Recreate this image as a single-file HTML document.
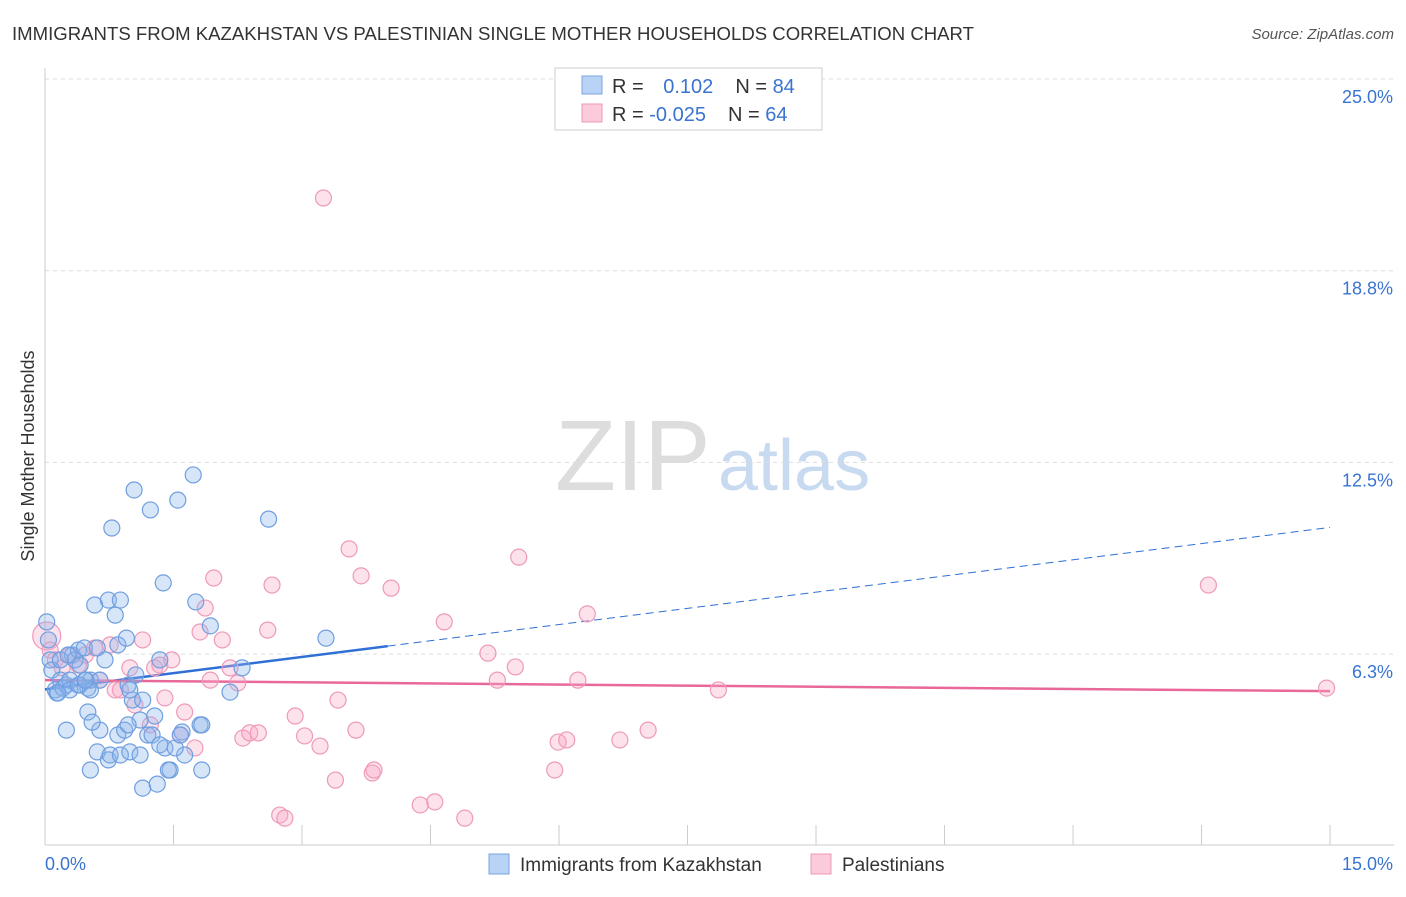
<!DOCTYPE html>
<html><head><meta charset="utf-8"><style>
body{margin:0;background:#fff;font-family:"Liberation Sans",sans-serif;}
svg text{font-family:"Liberation Sans",sans-serif;}
</style></head><body>
<svg id="chart" width="1406" height="892" xmlns="http://www.w3.org/2000/svg">
<text x="12" y="40" font-size="18.5" fill="#333" textLength="962" lengthAdjust="spacingAndGlyphs">IMMIGRANTS FROM KAZAKHSTAN VS PALESTINIAN SINGLE MOTHER HOUSEHOLDS CORRELATION CHART</text>
<text x="1394" y="39" font-size="15" fill="#555" text-anchor="end" font-style="italic">Source: ZipAtlas.com</text>
<text x="555" y="490" font-size="100" fill="#ddd" font-family="Liberation Serif">ZIP</text>
<text x="718" y="490" font-size="72" fill="#c8daf0">atlas</text>
<text transform="translate(34,456) rotate(-90)" font-size="18" fill="#333" text-anchor="middle">Single Mother Households</text>
<g id="grid"></g><g id="ticks"></g><g id="trend"></g><g id="pts"></g>
<g>
<rect x="555" y="68" width="267" height="62" fill="#fff" stroke="#ccc"/>
<rect x="582" y="76" width="20" height="18" fill="#b8d3f5" stroke="#7aa6e0"/>
<rect x="582" y="104" width="20" height="18" fill="#fbcadb" stroke="#ee9ab8"/>
<text x="612" y="93" font-size="20" fill="#333">R = <tspan fill="#3a74d0" dx="14">0.102</tspan><tspan dx="22" fill="#333">N = </tspan><tspan fill="#3a74d0">84</tspan></text>
<text x="612" y="121" font-size="20" fill="#333">R = <tspan fill="#3a74d0">-0.025</tspan><tspan dx="22" fill="#333">N = </tspan><tspan fill="#3a74d0">64</tspan></text>
</g>
<g>
<rect x="489" y="854" width="20" height="20" fill="#b8d3f5" stroke="#7aa6e0"/>
<text x="520" y="871" font-size="19" fill="#333">Immigrants from Kazakhstan</text>
<rect x="811" y="854" width="20" height="20" fill="#fbcadb" stroke="#ee9ab8"/>
<text x="842" y="871" font-size="19" fill="#333">Palestinians</text>
</g>
</svg>
<script>
const xTicks=[0,1.5,3,4.5,6,7.5,9,10.5,12,13.5,15];
const yTicks=[6.3,12.5,18.8,25.0];
const blueX=[.02,.04,.06,.08,.12,.14,.18,.21,.25,.29,.32,.35,.39,.41,.46,.48,.5,.53,.58,.61,.64,.7,.74,.78,.82,.85,.88,.95,.97,1.02,1.04,1.06,1.11,1.14,1.23,1.28,1.34,1.38,1.4,1.46,1.55,1.6,1.63,1.73,1.76,1.81,1.93,2.16,2.3,2.61,3.28,.53,.61,.64,.74,.76,.85,.88,.93,.97,.99,1.11,1.14,1.2,1.25,1.31,1.34,1.44,1.52,1.58,1.83,1.83,.25,.5,.55,.18,.27,.41,.53,.29,.15,.39,.47,.99];
const blueY=[7.3,6.71,6.06,5.73,5.08,4.98,5.4,5.14,5.24,5.4,6.22,6.06,6.38,5.24,6.45,5.4,5.14,5.4,7.85,6.45,5.4,6.06,8.01,10.36,7.52,6.55,8.01,6.77,5.24,4.75,11.6,5.57,4.1,4.75,10.95,4.23,6.06,8.57,3.19,2.47,11.27,3.71,2.96,12.09,7.95,3.94,7.17,5.01,5.8,10.65,6.77,2.47,3.06,3.77,2.8,2.96,3.61,2.96,3.77,3.94,3.06,2.96,1.88,3.61,3.61,2.01,3.29,2.47,3.19,3.61,3.94,2.47,3.77,4.36,4.03,6.06,6.22,5.89,5.08,5.08,4.98,5.24,5.4,5.08];
const pinkX=[.02,.06,.12,.2,.29,.39,.47,.58,.64,.76,.82,.88,.99,1.05,1.14,1.23,1.28,1.34,1.4,1.48,1.58,1.63,1.75,1.81,1.87,1.93,1.97,2.07,2.16,2.25,2.31,2.39,2.49,2.6,2.65,2.74,2.8,2.92,3.03,3.21,3.25,3.39,3.42,3.55,3.63,3.69,3.82,3.84,4.04,4.38,4.55,4.66,4.9,5.17,5.28,5.49,5.53,5.95,5.99,6.09,6.22,6.33,6.71,7.04,7.86,13.58,14.96];
const pinkY=[6.84,6.38,6.06,5.8,6.22,5.89,6.22,6.45,5.4,6.55,5.08,5.08,5.8,4.59,6.71,3.94,5.8,5.89,4.82,6.06,3.61,4.36,3.19,6.97,7.75,5.4,8.73,6.71,5.8,5.31,3.51,3.68,3.68,7.03,8.5,1.0,0.9,4.23,3.58,3.25,21.12,2.14,4.75,9.68,3.77,8.8,2.37,2.47,8.4,1.33,1.43,7.3,0.9,6.28,5.4,5.83,9.41,2.47,3.38,3.45,5.4,7.56,3.45,3.77,5.08,8.5,5.14];
const blueTrend=[5.1,0.352], pinkTrend=[5.4,-0.024], blueSolidEnd=4.0;
const X=v=>45+v*85.67, Y=v=>79+(25-v)*30.67;
const NS='http://www.w3.org/2000/svg';
function mk(t,a,p){const e=document.createElementNS(NS,t);for(const k in a)e.setAttribute(k,a[k]);document.getElementById(p).appendChild(e);return e;}
yTicks.forEach(t=>{const yy=Y(t===6.3?6.25:t===18.8?18.75:t);
 const l=mk('line',{x1:45,x2:1394,y1:yy,y2:yy,stroke:'#ddd','stroke-dasharray':'4,4'},'grid');
 
 
 const tx=mk('text',{x:1393,y:yy+24,'font-size':18,fill:'#3a74d0','text-anchor':'end'},'ticks');tx.textContent=t.toFixed(1)+'%';
 
 });
mk('line',{x1:45,x2:45,y1:68,y2:845,stroke:'#ccc'},'grid');
mk('line',{x1:45,x2:1394,y1:845,y2:845,stroke:'#ccc'},'grid');
xTicks.forEach(t=>{const l=mk('line',{x1:X(t),x2:X(t),y1:825,y2:845,stroke:'#ccc'},'grid');
 
 });
[[0,45,'start'],[15,1393,'end']].forEach(([t,xx,a])=>{const tx=mk('text',{x:xx,y:870,'font-size':18,fill:'#3a74d0','text-anchor':a},'ticks');tx.textContent=t.toFixed(1)+'%';
 
 });
pinkX.forEach((v,i)=>{const c=mk('circle',{cx:X(v),cy:Y(pinkY[i]),r:i===0?14:8,fill:'rgba(248,170,198,0.35)',stroke:'#ee9ab8','stroke-width':1.2},'pts');
 
 });
blueX.forEach((v,i)=>{const c=mk('circle',{cx:X(v),cy:Y(blueY[i]),r:8,fill:'rgba(140,180,235,0.35)',stroke:'#6f9fe0','stroke-width':1.2},'pts');
 
 });
const bt=v=>blueTrend[0]+blueTrend[1]*v, pt=v=>pinkTrend[0]+pinkTrend[1]*v;
let l=mk('line',{x1:X(0),y1:Y(bt(0)),x2:X(blueSolidEnd),y2:Y(bt(blueSolidEnd)),stroke:'#2f6fd6','stroke-width':2.5},'trend');


l=mk('line',{x1:X(blueSolidEnd),y1:Y(bt(blueSolidEnd)),x2:X(15),y2:Y(bt(15)),stroke:'#2f6fd6','stroke-width':1,'stroke-dasharray':'8,5'},'trend');


l=mk('line',{x1:X(0),y1:Y(pt(0)),x2:X(15),y2:Y(pt(15)),stroke:'#e8689a','stroke-width':2.5},'trend');


</script>
</body></html>
